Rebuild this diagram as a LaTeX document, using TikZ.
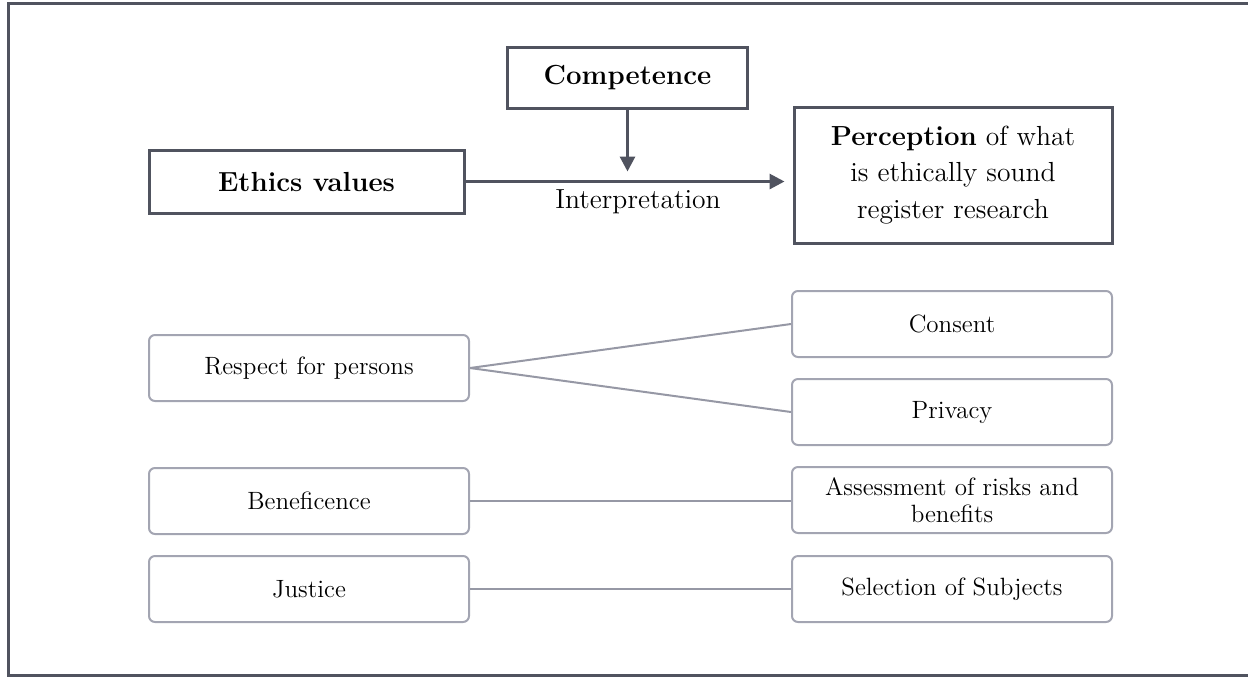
\documentclass[tikz,border=0pt]{standalone}
\usetikzlibrary{arrows.meta}
\definecolor{dk}{RGB}{80,83,95}
\definecolor{gr}{RGB}{163,165,178}
\definecolor{ln}{RGB}{150,152,165}
\begin{document}
\begin{tikzpicture}[x=0.5pt,y=-0.5pt,
  darkbox/.style={draw=dk,line width=1.5pt,fill=white,inner sep=0pt,align=center},
  softbox/.style={draw=gr,line width=1pt,rounded corners=3pt,inner sep=0pt,align=center,
    minimum width=160pt,minimum height=33pt,font=\fontsize{12.5}{13.5}\selectfont},
  link/.style={draw=ln,line width=1pt},
  arr/.style={draw=dk,line width=1.5pt,-{Triangle[length=7.5pt,width=7.5pt]}}]
\useasboundingbox (0,0) rectangle (1248,677);
\clip (0,0) rectangle (1248,677);
\draw[dk,line width=1.5pt] (8.5,3.5) rectangle (1270,675.5);

\node[darkbox,minimum width=120pt,minimum height=30.5pt,font=\bfseries\fontsize{13.8}{16}\selectfont] (comp) at (627.5,77.5) {Competence};
\node[darkbox,minimum width=157.5pt,minimum height=31.5pt,font=\bfseries\fontsize{13.8}{16}\selectfont] (ethics) at (306.5,181.5) {Ethics values};
\node[darkbox,minimum width=159pt,minimum height=68pt,font=\fontsize{13.8}{18.3}\selectfont] (perc) at (953,175) {\textbf{Perception} of what\\is ethically sound\\register research};
\node[font=\fontsize{13.8}{16}\selectfont,inner sep=0pt] (interp) at (638,202) {Interpretation};

\draw[arr,shorten >=4pt] (ethics.east) -- (ethics.east -| perc.west);
\draw[arr,shorten >=5pt] (comp.south) -- (comp.south |- ethics.east);

\node[softbox] (resp) at (309,368) {Respect for persons};
\node[softbox] (cons) at (952,324) {Consent};
\node[softbox] (priv) at (952,412) {Privacy};
\node[softbox] (bene) at (309,501) {Beneficence};
\node[softbox] (asse) at (952,500) {Assessment of risks and\\benefits};
\node[softbox] (just) at (309,589) {Justice};
\node[softbox] (sele) at (952,589) {Selection of Subjects};

\draw[link] (resp.east) -- (cons.west);
\draw[link] (resp.east) -- (priv.west);
\draw[link] (bene.east) -- (bene.east -| asse.west);
\draw[link] (just.east) -- (sele.west);
\end{tikzpicture}
\end{document}
